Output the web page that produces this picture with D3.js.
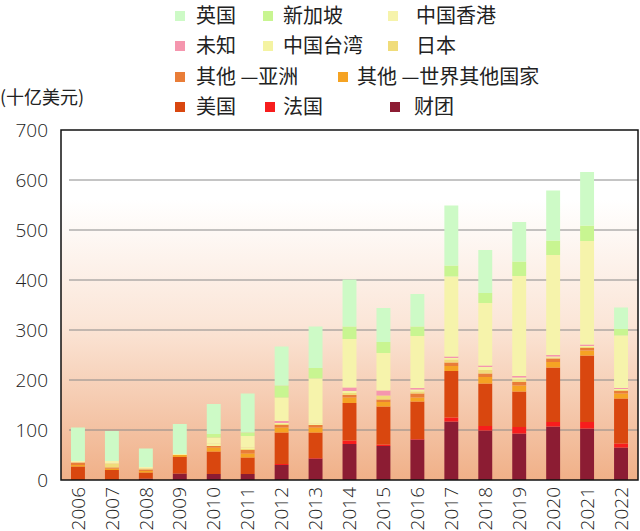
<!DOCTYPE html>
<html>
<head>
<meta charset="utf-8">
<script src="https://cdn.jsdelivr.net/npm/d3@7"></script>
<style>
  body { margin: 0; background: #fff; }
  text { font-family: "Noto Sans CJK SC", "Noto Sans", sans-serif; fill: #222; }
  .tick-num { font-family: "Open Sans", "Liberation Sans", sans-serif; font-weight: 300; }
</style>
</head>
<body>
<div id="chart"></div>
<script>
// years on the x axis
const years = ["2006", "2007", "2008", "2009", "2010", "2011", "2012", "2013",
  "2014", "2015", "2016", "2017", "2018", "2019", "2020", "2021", "2022"];

// series, bottom of the stack first (十亿美元)
const seriesNames = ["财团", "法国", "美国", "其他 —世界其他国家", "其他 —亚洲",
  "日本", "中国台湾", "未知", "中国香港", "新加坡", "英国"];

const consortium = [0, 0, 3, 13, 12, 12, 30, 43, 72, 68, 81, 117, 99, 93, 107, 103, 65];
const france     = [0, 0, 0, 0, 0, 0, 2, 1, 7, 3, 1, 8, 9, 13, 9, 13, 8];
const usa        = [27, 20, 12, 33, 45, 33, 63, 51, 75, 76, 75, 93, 85, 71, 109, 133, 90];
const otherWorld = [3, 3, 3, 4, 8, 8, 10, 10, 11, 9, 8, 10, 13, 12, 11, 10, 10];
const otherAsia  = [5, 2, 3, 0, 3, 7, 5, 5, 5, 5, 8, 7, 7, 7, 7, 5, 5];
const japan      = [0, 8, 2, 0, 0, 2, 2, 0, 4, 8, 4, 6, 7, 5, 2, 2, 2];
const taiwan     = [0, 0, 0, 2, 5, 3, 2, 3, 4, 0, 4, 3, 6, 4, 2, 2, 2];
const unknown    = [0, 0, 0, 0, 0, 0, 4, 0, 7, 10, 3, 3, 3, 3, 3, 3, 2];
const hongKong   = [3, 5, 3, 0, 12, 23, 47, 90, 97, 75, 104, 160, 125, 200, 200, 207, 105];
const singapore  = [0, 0, 0, 0, 7, 7, 24, 21, 25, 22, 19, 22, 20, 29, 29, 31, 13];
const uk         = [67, 60, 37, 60, 60, 78, 78, 83, 94, 68, 65, 120, 86, 79, 100, 107, 43];

const seriesValues = [consortium, france, usa, otherWorld, otherAsia, japan,
  taiwan, unknown, hongKong, singapore, uk];

const colors = ["#8c1c33", "#f71d1d", "#d9470f", "#f5a323", "#e97d38",
  "#f0dc7a", "#f4f3a2", "#f596ae", "#f6f3ab", "#c8f591", "#cdfac6"];

const yTicks = [0, 100, 200, 300, 400, 500, 600, 700];

// legend rows as laid out in the picture
const legendItems = [
  { name: "英国", sx: 175, tx: 196, row: 0 },
  { name: "新加坡", sx: 263, tx: 283, row: 0 },
  { name: "中国香港", sx: 388, tx: 416, row: 0 },
  { name: "未知", sx: 175, tx: 196, row: 1 },
  { name: "中国台湾", sx: 263, tx: 283, row: 1 },
  { name: "日本", sx: 388, tx: 416, row: 1 },
  { name: "其他 —亚洲", sx: 175, tx: 196, row: 2 },
  { name: "其他 —世界其他国家", sx: 338, tx: 357, row: 2 },
  { name: "美国", sx: 175, tx: 196, row: 3 },
  { name: "法国", sx: 265, tx: 283, row: 3 },
  { name: "财团", sx: 390, tx: 414, row: 3 }
];
const legendRowY = [16, 46, 77, 107];

const width = 640, height = 531;
const margin = { top: 130, right: 2, bottom: 51, left: 61 };

const svg = d3.select("#chart").append("svg")
  .attr("width", width)
  .attr("height", height);

// build a table for d3.stack
const table = years.map((y, i) => {
  const row = { year: y };
  seriesNames.forEach((s, k) => { row[s] = seriesValues[k][i]; });
  return row;
});
const stacked = d3.stack().keys(seriesNames)(table);

const xScale = d3.scaleBand()
  .domain(years)
  .range([margin.left, width - margin.right])
  .paddingInner(0.59)
  .paddingOuter(0.295);

const yScale = d3.scaleLinear()
  .domain([0, 700])
  .range([height - margin.bottom, margin.top]);

// background gradient of the plot
const defs = svg.append("defs");
const grad = defs.append("linearGradient")
  .attr("id", "bg")
  .attr("x1", 0).attr("y1", 0).attr("x2", 0).attr("y2", 1);
grad.append("stop").attr("offset", "0%").attr("stop-color", "#ffffff");
grad.append("stop").attr("offset", "20%").attr("stop-color", "#ffffff");
grad.append("stop").attr("offset", "55%").attr("stop-color", "#fbe6d8");
grad.append("stop").attr("offset", "100%").attr("stop-color", "#f0b088");

svg.append("rect")
  .attr("x", margin.left)
  .attr("y", margin.top)
  .attr("width", width - margin.right - margin.left)
  .attr("height", height - margin.bottom - margin.top)
  .attr("fill", "url(#bg)");

// gridlines
svg.append("g")
  .selectAll("line")
  .data(yTicks.slice(1, -1))
  .enter()
  .append("line")
  .attr("x1", margin.left + 8)
  .attr("x2", width - margin.right)
  .attr("y1", d => yScale(d))
  .attr("y2", d => yScale(d))
  .attr("stroke", "#8a8a8a")
  .attr("stroke-width", 1);

// stacked bars
svg.append("g")
  .selectAll("g")
  .data(stacked)
  .enter()
  .append("g")
  .attr("fill", (d, i) => colors[i])
  .selectAll("rect")
  .data(d => d)
  .enter()
  .append("rect")
  .attr("x", d => xScale(d.data.year))
  .attr("width", xScale.bandwidth())
  .attr("y", d => yScale(d[1]))
  .attr("height", d => yScale(d[0]) - yScale(d[1]));

// frame
svg.append("rect")
  .attr("x", margin.left)
  .attr("y", margin.top)
  .attr("width", width - margin.right - margin.left)
  .attr("height", height - margin.bottom - margin.top)
  .attr("fill", "none")
  .attr("stroke", "#111")
  .attr("stroke-width", 1.5);

// y axis labels
const yAxis = svg.append("g")
  .attr("transform", "translate(" + (margin.left - 13) + ",0)")
  .call(d3.axisLeft(yScale).tickValues(yTicks).tickSize(0).tickPadding(0));
yAxis.select(".domain").remove();
yAxis.selectAll("text")
  .attr("class", "tick-num")
  .style("font-size", "19px")
  .attr("fill", "#222");

svg.append("text")
  .attr("x", 0)
  .attr("y", 104)
  .style("font-size", "18px")
  .text("(十亿美元)");

// x axis labels, rotated
const xAxis = svg.append("g")
  .attr("transform", "translate(0," + (height - margin.bottom) + ")")
  .call(d3.axisBottom(xScale).tickSize(0).tickPadding(0));
xAxis.select(".domain").remove();
xAxis.selectAll("text")
  .attr("class", "tick-num")
  .style("font-size", "19px")
  .attr("fill", "#222")
  .attr("transform", "rotate(-90)")
  .attr("text-anchor", "end")
  .attr("x", -7)
  .attr("y", 0)
  .attr("dy", "0.35em");

// legend
const legend = svg.append("g");
legend.selectAll("rect")
  .data(legendItems)
  .enter()
  .append("rect")
  .attr("x", d => d.sx)
  .attr("y", d => legendRowY[d.row] - 5)
  .attr("width", 10)
  .attr("height", 10)
  .attr("fill", d => colors[seriesNames.indexOf(d.name)]);

legend.selectAll("text")
  .data(legendItems)
  .enter()
  .append("text")
  .attr("x", d => d.tx)
  .attr("y", d => legendRowY[d.row])
  .attr("dy", "0.35em")
  .style("font-size", "20px")
  .text(d => d.name);
</script>
</body>
</html>
